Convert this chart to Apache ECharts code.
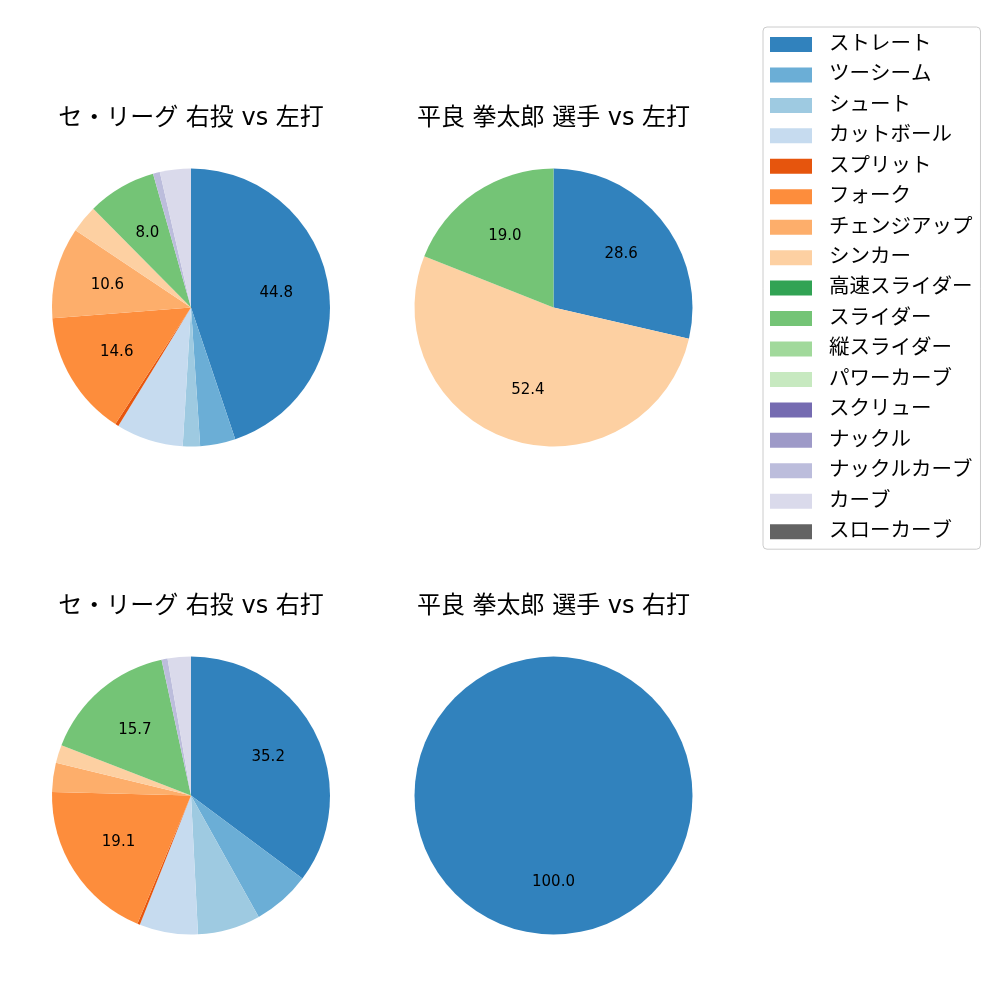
<!DOCTYPE html>
<html><head><meta charset="utf-8">
<script src="https://cdn.jsdelivr.net/npm/echarts@6/dist/echarts.min.js"></script>
<style>html,body{margin:0;padding:0;background:#fff}#c{width:1000px;height:1000px}</style>
</head><body><div id="c"></div>
<script>
const categories = ['ストレート','ツーシーム','シュート','カットボール','スプリット','フォーク','チェンジアップ','シンカー','高速スライダー','スライダー','縦スライダー','パワーカーブ','スクリュー','ナックル','ナックルカーブ','カーブ','スローカーブ'];
const colors = ['#3182bd','#6baed6','#9ecae1','#c6dbef','#e6550d','#fd8d3c','#fdae6b','#fdd0a2','#31a354','#74c476','#a1d99b','#c7e9c0','#756bb1','#9e9ac8','#bcbddc','#dadaeb','#636363'];
const titles = ['セ・リーグ 右投 vs 左打','平良 拳太郎 選手 vs 左打','セ・リーグ 右投 vs 右打','平良 拳太郎 選手 vs 右打'];
const leagueVsLeft  = [44.8, 4.1, 2.0, 7.8, 0.4, 14.6, 10.6, 3.2, 0, 8.0, 0, 0, 0, 0, 0.8, 3.6, 0];
const taraVsLeft    = [28.6, 0, 0, 0, 0, 0, 0, 52.4, 0, 19.0, 0, 0, 0, 0, 0, 0, 0];
const leagueVsRight = [35.2, 6.7, 7.3, 6.8, 0.3, 19.1, 3.4, 2.1, 0, 15.7, 0, 0, 0, 0, 0.7, 2.7, 0];
const taraVsRight   = [100.0, 0, 0, 0, 0, 0, 0, 0, 0, 0, 0, 0, 0, 0, 0, 0, 0];
const labelMin = 8;

const panels = [
  {vals: leagueVsLeft,  cx: 191, cy: 307.5, tx: 191, ty: 107},
  {vals: taraVsLeft,    cx: 553.5, cy: 307.5, tx: 553.5, ty: 107},
  {vals: leagueVsRight, cx: 191, cy: 795.5, tx: 191, ty: 595},
  {vals: taraVsRight,   cx: 553.5, cy: 795.5, tx: 553.5, ty: 595}
];
const R = 139;
const font = '"DejaVu Sans", "Noto Sans CJK JP", sans-serif';

const series = [];
panels.forEach((p, k) => {
  series.push({
    type: 'pie', name: 'p' + k, center: [p.cx, p.cy], radius: [0, R],
    startAngle: 90, clockwise: true, avoidLabelOverlap: false,
    animation: false, label: {show: false}, labelLine: {show: false},
    itemStyle: {borderWidth: 0},
    emphasis: {disabled: true},
    data: categories.map((c, i) => ({name: c, value: p.vals[i], itemStyle: {color: colors[i]}}))
  });
});
panels.forEach((p, k) => {
  series.push({
    type: 'pie', name: 'l' + k, center: [p.cx, p.cy], radius: [R * 0.2, R],
    startAngle: 90, clockwise: true, avoidLabelOverlap: false, silent: true,
    legendHoverLink: false, animation: false,
    itemStyle: {color: 'rgba(0,0,0,0)', borderWidth: 0},
    emphasis: {disabled: true},
    labelLine: {show: false},
    label: {
      show: true, position: 'inside', color: '#000', fontSize: 15, fontFamily: font,
      formatter: (q) => q.value >= labelMin ? q.value.toFixed(1) : ''
    },
    data: categories.map((c, i) => ({name: c, value: p.vals[i]}))
  });
});

const chart = echarts.init(document.getElementById('c'), null, {renderer: 'canvas'});
chart.setOption({
  backgroundColor: '#fff',
  animation: false,
  title: panels.map((p, k) => ({
    text: titles[k], left: p.tx, top: p.ty, textAlign: 'center', padding: 0,
    textStyle: {fontSize: 24, fontWeight: 'normal', color: '#000', fontFamily: font}
  })),
  legend: {
    data: categories, orient: 'vertical', left: 763, top: 27,
    padding: [7, 8, 7, 7], borderColor: '#cccccc', borderWidth: 1, borderRadius: 4,
    itemWidth: 42, itemHeight: 15, itemGap: 9.45, icon: 'rect',
    selectedMode: false,
    textStyle: {fontSize: 20.5, color: '#000', fontFamily: font, lineHeight: 21, padding: [0, 0, 0, 12]}
  },
  series: series
});
</script></body></html>
